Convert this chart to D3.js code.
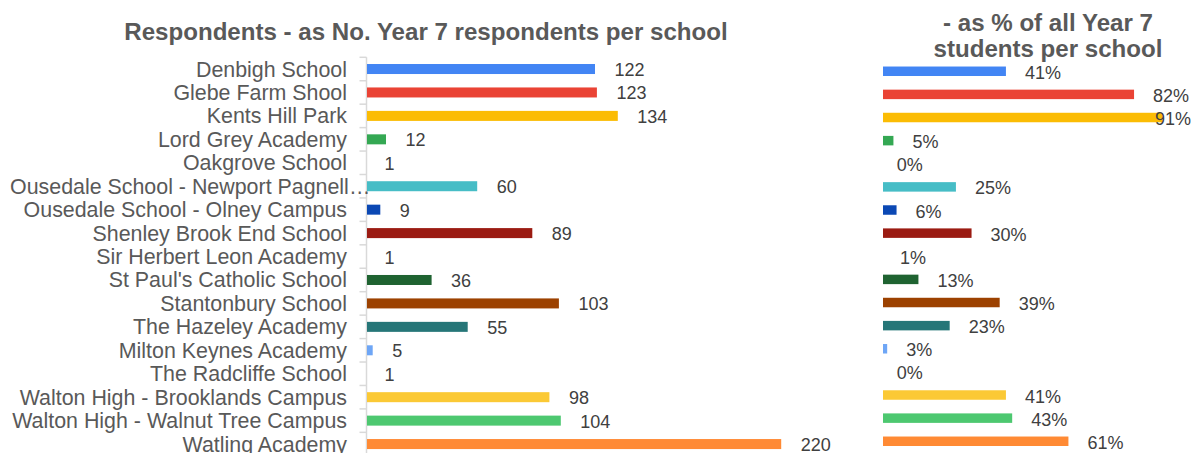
<!DOCTYPE html>
<html>
<head>
<meta charset="utf-8">
<script src="https://cdn.jsdelivr.net/npm/d3@7/dist/d3.min.js"></script>
<style>
  html, body { margin: 0; padding: 0; background: #fff; }
  svg { display: block; font-family: "Liberation Sans", Arial, sans-serif; }
</style>
</head>
<body>
<svg id="chart" width="1192" height="453"></svg>
<script>
const categories = [
  "Denbigh School",
  "Glebe Farm Shool",
  "Kents Hill Park",
  "Lord Grey Academy",
  "Oakgrove School",
  "Ousedale School - Newport Pagnell…",
  "Ousedale School - Olney Campus",
  "Shenley Brook End School",
  "Sir Herbert Leon Academy",
  "St Paul's Catholic School",
  "Stantonbury School",
  "The Hazeley Academy",
  "Milton Keynes Academy",
  "The Radcliffe School",
  "Walton High - Brooklands Campus",
  "Walton High - Walnut Tree Campus",
  "Watling Academy"
];
const respondents = [122, 123, 134, 12, 1, 60, 9, 89, 1, 36, 103, 55, 5, 1, 98, 104, 220];
const percentOfYear7 = [41, 82, 91, 5, 0, 25, 6, 30, 1, 13, 39, 23, 3, 0, 41, 43, 61];
const leftTitle = "Respondents - as No. Year 7 respondents per school";
const rightTitleLines = ["- as % of all Year 7", "students per school"];

const palette = ["#4285F4", "#EA4335", "#FBBC04", "#34A853", "#FF6D01", "#46BDC6", "#0B48B4",
  "#9B1B12", "#7B1FA2", "#1F6331", "#9C4100", "#267678", "#6EA6F6", "#C2185B", "#FBC935",
  "#4DC870", "#FF8A34"];

const W = 1192, H = 453;
const svg = d3.select("#chart");
const rows = categories.map((c, i) => ({ c, i, n: respondents[i], p: percentOfYear7[i], col: palette[i] }));

// ---------- Left panel ----------
// value scale: zero lies slightly left of the visible baseline, bars start at the baseline
const baseL = 367;
const xL = d3.scaleLinear().domain([0, 220]).range([363.2, 781.2]);
const yL = d3.scaleBand().domain(d3.range(categories.length))
  .range([57.3, 57.3 + 23.44 * categories.length]).paddingInner(0.573).paddingOuter(0.2865);

svg.append("text").attr("x", 426).attr("y", 40).attr("text-anchor", "middle")
  .attr("font-size", 24.1).attr("font-weight", "bold").attr("fill", "#595959").text(leftTitle);

// axis with category ticks
const axisG = svg.append("g");
axisG.append("line").attr("x1", 366.5).attr("x2", 366.5).attr("y1", yL.range()[0]).attr("y2", H + 5)
  .attr("stroke", "#d9d9d9").attr("stroke-width", 1.5);
const boundaries = d3.range(categories.length + 1).map(i => yL.range()[0] + i * yL.step());
axisG.selectAll("line.tick").data(boundaries).join("line").attr("class", "tick")
  .attr("x1", 359.5).attr("x2", 366.5).attr("y1", d => d).attr("y2", d => d)
  .attr("stroke", "#d9d9d9").attr("stroke-width", 1.5);

// category labels
const labelRight = 347, labelMinLeft = 10;
svg.append("g").selectAll("text").data(rows).join("text")
  .attr("font-size", 21.4).attr("fill", "#595959")
  .attr("y", d => yL(d.i) + yL.bandwidth() / 2 + 7.5)
  .text(d => d.c)
  .each(function () {
    const w = this.getComputedTextLength();
    const x = Math.max(labelMinLeft, labelRight - w);
    d3.select(this).attr("x", x);
  });

svg.append("g").selectAll("rect").data(rows.filter(d => xL(d.n) > baseL)).join("rect")
  .attr("x", baseL).attr("y", d => yL(d.i)).attr("height", yL.bandwidth())
  .attr("width", d => xL(d.n) - baseL).attr("fill", d => d.col);

svg.append("g").selectAll("text").data(rows).join("text")
  .attr("font-size", 18).attr("fill", "#404040")
  .attr("x", d => xL(d.n) + 19.5)
  .attr("y", d => yL(d.i) + yL.bandwidth() / 2 + 7)
  .text(d => d3.format("d")(d.n));

// ---------- Right panel ----------
const baseR = 883;
const xR = d3.scaleLinear().domain([0, 100]).range([877.8, 1190.3]);
const yR = d3.scaleBand().domain(d3.range(categories.length))
  .range([59.7, 59.7 + 23.125 * categories.length]).paddingInner(0.59).paddingOuter(0.295);

const rt = svg.append("text").attr("text-anchor", "middle").attr("font-size", 24.1)
  .attr("font-weight", "bold").attr("fill", "#595959");
rightTitleLines.forEach((t, k) => rt.append("tspan").attr("x", 1048).attr("y", 31 + k * 26).text(t));

svg.append("g").selectAll("rect").data(rows.filter(d => xR(d.p) > baseR)).join("rect")
  .attr("x", baseR).attr("y", d => yR(d.i)).attr("height", yR.bandwidth())
  .attr("width", d => xR(d.p) - baseR).attr("fill", d => d.col);

svg.append("g").selectAll("text").data(rows).join("text")
  .attr("font-size", 18).attr("fill", "#404040")
  .attr("y", d => yR(d.i) + yR.bandwidth() / 2 + 7.5)
  .text(d => d.p + "%")
  .each(function (d) {
    const w = this.getComputedTextLength();
    d3.select(this).attr("x", Math.min(xR(d.p) + 19, W - 1 - w));
  });
</script>
</body>
</html>
